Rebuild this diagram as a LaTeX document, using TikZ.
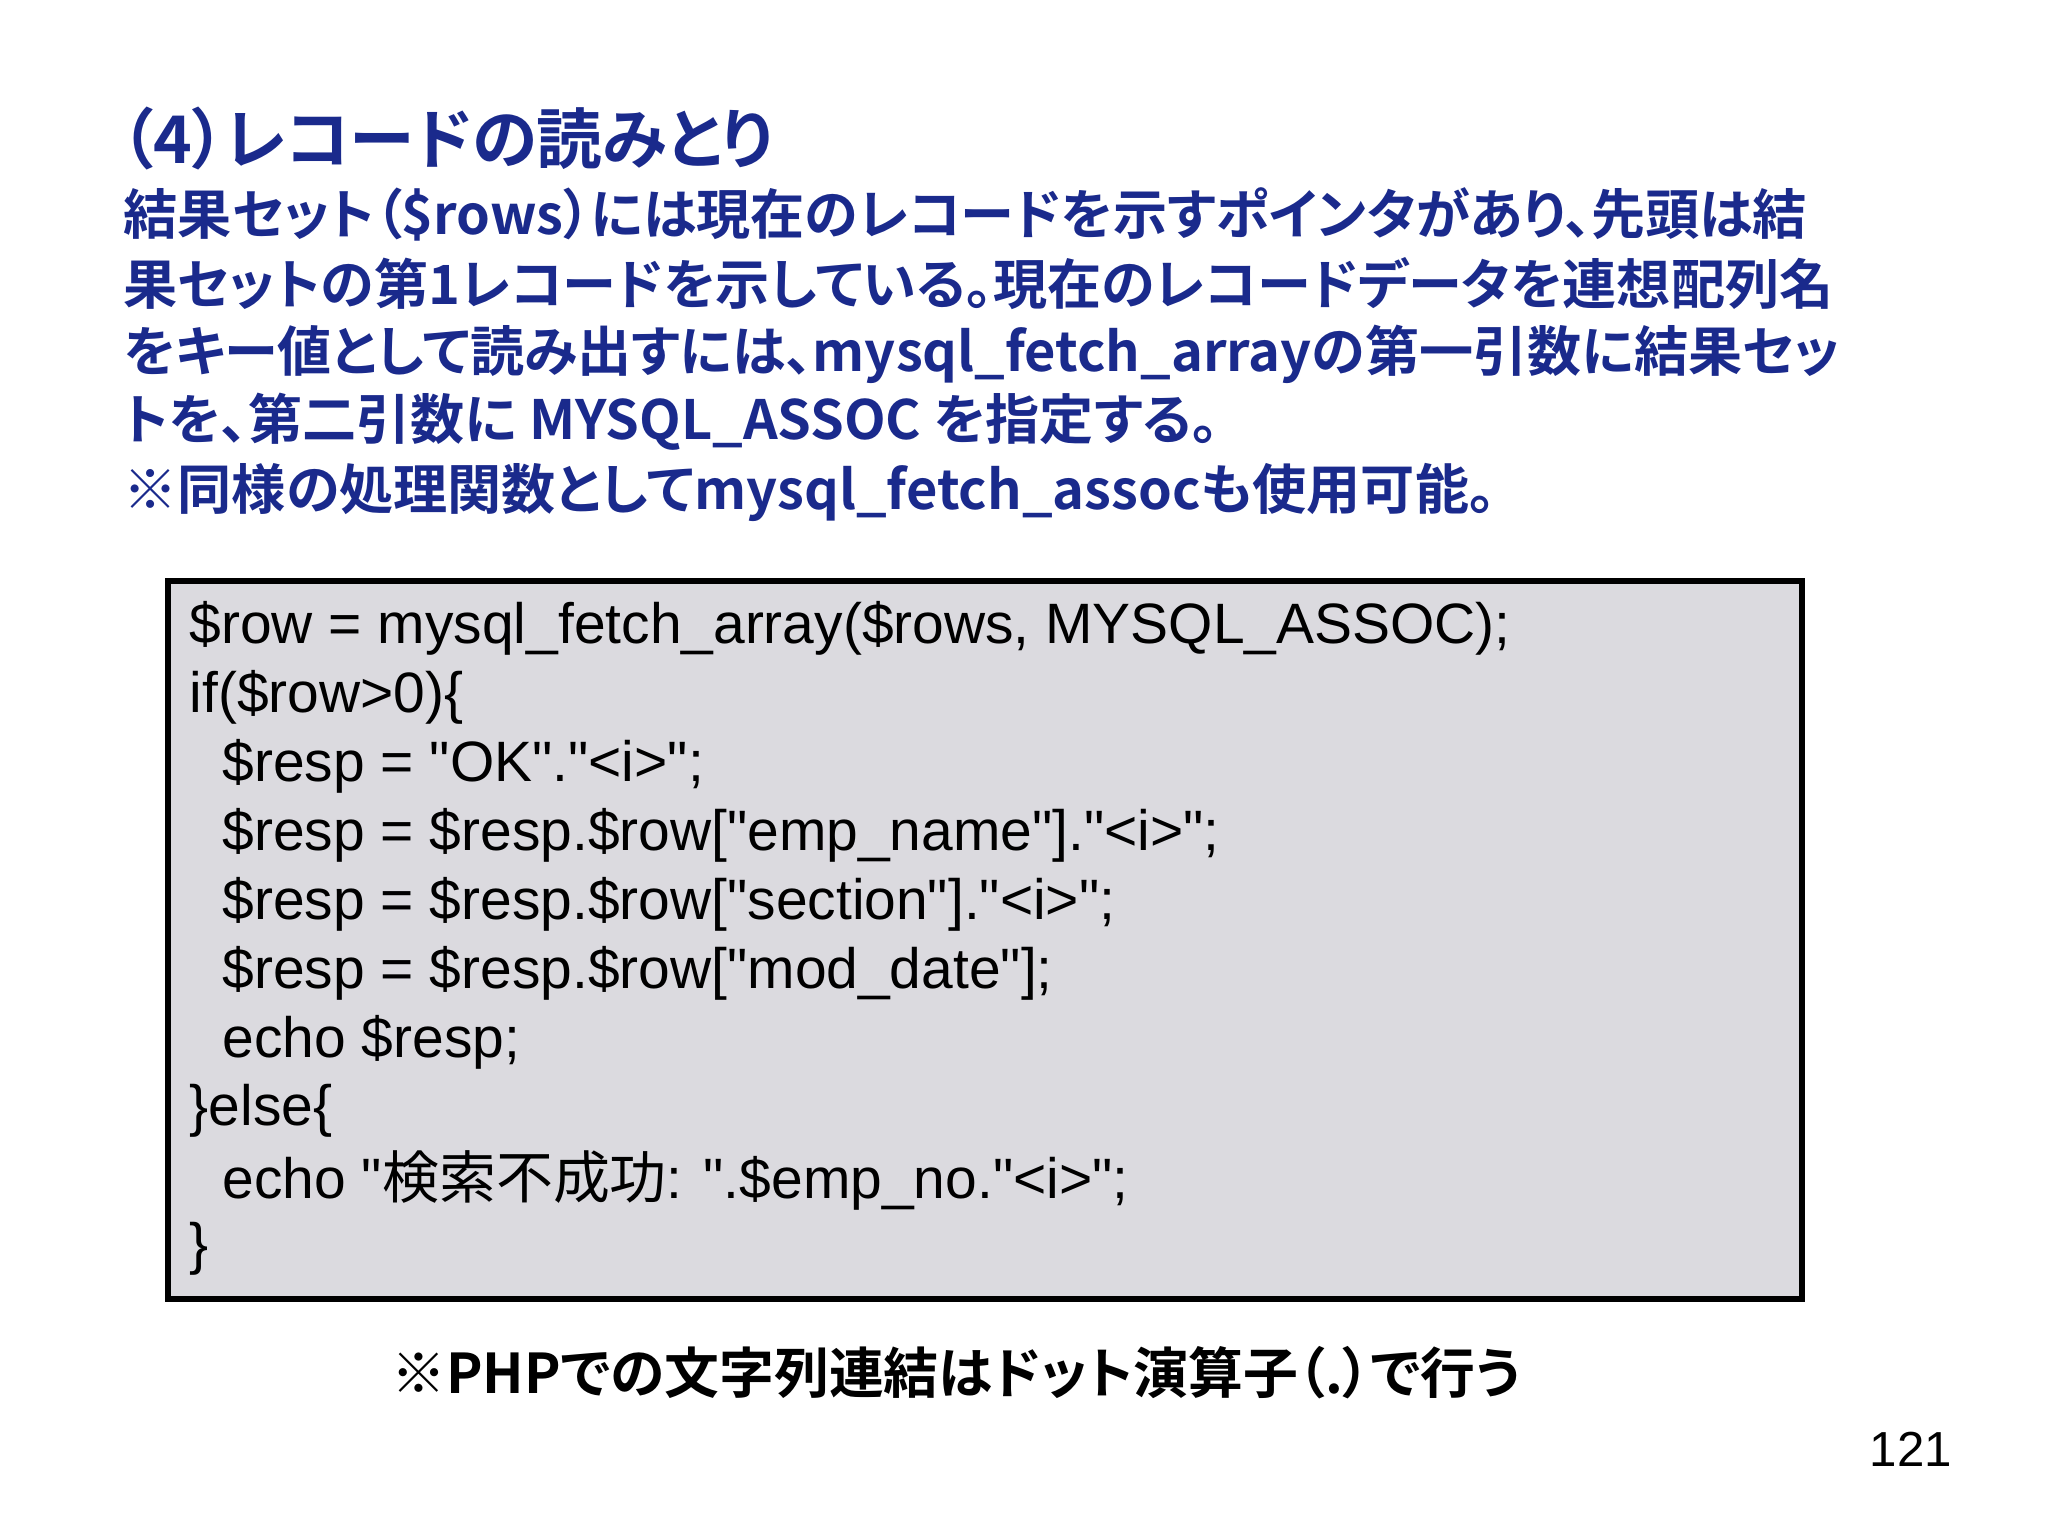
\documentclass[tikz,border=0pt]{standalone}
\usepackage{fontspec}
\setmainfont{Liberation Sans}
\newfontfamily\jpb{Noto Sans CJK JP}[BoldFont={* Bold},RawFeature=+palt]
\font\qf="Liberation Sans" at 16.2pt
\definecolor{ttl}{RGB}{26,42,140}
\definecolor{boxbg}{RGB}{219,218,223}
\newcommand\dq{{\qf"}}
\tikzset{
 jline/.style={anchor=west,inner sep=0pt,font=\jpb\bfseries\fontsize{15.4pt}{19pt}\selectfont,text=ttl},
 cline/.style={anchor=west,inner sep=0pt,font=\fontsize{16.2pt}{19pt}\selectfont},
}
\begin{document}
\begin{tikzpicture}[x=1cm,y=1cm]
\useasboundingbox (0,0) rectangle (20.48,-15.36);
\node[jline,font=\jpb\bfseries\fontsize{18.7pt}{23pt}\selectfont] (t) at (1.2,-1.39) {（4）レコードの読みとり};
\node[jline] (l1) at (1.23,-2.14) {結果セット（\$rows）には現在のレコードを示すポインタがあり、先頭は結};
\node[jline] (l2) at (1.23,-2.84) {果セットの第1レコードを示している。現在のレコードデータを連想配列名};
\node[jline] (l3) at (1.23,-3.54) {をキー値として読み出すには、mysql\_fetch\_arrayの第一引数に結果セッ};
\node[jline] (l4) at (1.23,-4.22) {トを、第二引数に MYSQL\_ASSOC を指定する。};
\node[jline] (l5) at (1.23,-4.92) {※同様の処理関数としてmysql\_fetch\_assocも使用可能。};
\draw[fill=boxbg,line width=1.6pt] (1.68,-5.81) rectangle (18.02,-12.99);
\node[cline] (c1) at (1.89,-6.28) {\$row = mysql\_fetch\_array(\$rows, MYSQL\_ASSOC);};
\node[cline] (c2) at (1.89,-6.97) {if(\$row>0)\{};
\node[cline] (c3) at (2.22,-7.66) {\$resp = \dq OK\dq.\dq<i>\dq;};
\node[cline] (c4) at (2.22,-8.35) {\$resp = \$resp.\$row[\dq emp\_name\dq].\dq<i>\dq;};
\node[cline] (c5) at (2.22,-9.04) {\$resp = \$resp.\$row[\dq section\dq].\dq<i>\dq;};
\node[cline] (c6) at (2.22,-9.73) {\$resp = \$resp.\$row[\dq mod\_date\dq];};
\node[cline] (c7) at (2.22,-10.42) {echo \$resp;};
\node[cline] (c8) at (1.89,-11.11) {\}else\{};
\node[cline] (c9) at (2.22,-11.80) {echo \dq{\jpb 検索不成功}: \dq.\$emp\_no.\dq<i>\dq;};
\node[cline] (c10) at (1.89,-12.49) {\}};
\node[inner sep=0pt,font=\jpb\bfseries\fontsize{15.6pt}{19pt}\selectfont] (fn) at (9.56,-13.73) {※PHPでの文字列連結はドット演算子（.）で行う};
\node[inner sep=0pt,font=\fontsize{14pt}{16pt}\selectfont] (pn) at (19.11,-14.49) {121};
\end{tikzpicture}
\end{document}
